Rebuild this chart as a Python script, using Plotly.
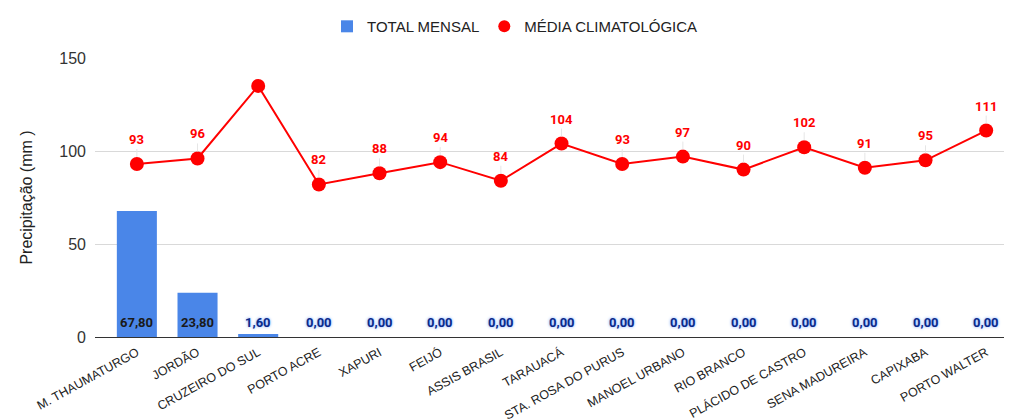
import plotly.graph_objects as go

categories = ["M. THAUMATURGO", "JORDÃO", "CRUZEIRO DO SUL", "PORTO ACRE", "XAPURI", "FEIJÓ",
              "ASSIS BRASIL", "TARAUACÁ", "STA. ROSA DO PURUS", "MANOEL URBANO", "RIO BRANCO",
              "PLÁCIDO DE CASTRO", "SENA MADUREIRA", "CAPIXABA", "PORTO WALTER"]
total_mensal = [67.80, 23.80, 1.60, 0, 0, 0, 0, 0, 0, 0, 0, 0, 0, 0, 0]
media_climatologica = [93, 96, 135, 82, 88, 94, 84, 104, 93, 97, 90, 102, 91, 95, 111]
media_labels_shown = [True, True, False, True, True, True, True, True, True, True, True, True, True, True, True]
y_ticks = [0, 50, 100, 150]

bar_text = [f"{v:.2f}".replace(".", ",") for v in total_mensal]

fig = go.Figure()
fig.add_trace(go.Bar(
    x=categories, y=total_mensal, name="TOTAL MENSAL",
    marker=dict(color="#4a86e8", line=dict(width=0)), width=0.66,
))
fig.add_trace(go.Scatter(
    x=categories, y=media_climatologica, name="MÉDIA CLIMATOLÓGICA",
    mode="lines+markers", showlegend=False,
    line=dict(color="#ff0000", width=2), marker=dict(color="#ff0000", size=14),
))
fig.add_trace(go.Scatter(
    x=[None], y=[None], name="MÉDIA CLIMATOLÓGICA", mode="markers",
    marker=dict(color="#ff0000", size=12),
))

for c, v, t in zip(categories, total_mensal, bar_text):
    big = v > 10
    fig.add_annotation(x=c, y=0, text=t, showarrow=False, yanchor="bottom", yshift=5,
                       font=dict(family="Roboto", size=13, weight="bold",
                                 color="#1a1a1a" if big else "#0a2a8a",
                                 shadow="none" if big else "0px 0px 3px #6fa0ff"))

for c, v, s in zip(categories, media_climatologica, media_labels_shown):
    if not s:
        continue
    fig.add_annotation(x=c, y=v, text=str(v), showarrow=True, arrowhead=0, arrowwidth=1,
                       arrowcolor="#e6e6e6", ax=0, ay=-15, standoff=7, yanchor="bottom",
                       font=dict(family="Roboto", size=13, color="#ff0000", weight="bold"))

fig.update_layout(
    width=1004, height=411,
    margin=dict(l=87, r=7, t=50, b=82),
    plot_bgcolor="white", paper_bgcolor="white",
    font=dict(family="Liberation Sans, Arial", color="#222"),
    showlegend=True,
    legend=dict(orientation="h", x=0.505, xanchor="center", xref="container",
                y=0.995, yanchor="top", yref="container",
                font=dict(size=15, color="#222"), itemwidth=30),
    bargap=0.34,
)
fig.update_xaxes(range=[-0.69, 14.31], tickangle=-29, tickfont=dict(size=12.5, color="#222"),
                 showgrid=False, showline=False, ticks="", automargin=False, ticklabelstandoff=5)
fig.update_yaxes(range=[0, 150], tickvals=y_ticks, tickfont=dict(size=16, color="#333"),
                 gridcolor="#d9d9d9", gridwidth=1, zeroline=True, zerolinecolor="#333",
                 zerolinewidth=1, ticks="", ticklabelstandoff=8, automargin=False,
                 title=dict(text="Precipitação (mm )", font=dict(size=16, color="#222"), standoff=22))

fig.write_html("out.html")
